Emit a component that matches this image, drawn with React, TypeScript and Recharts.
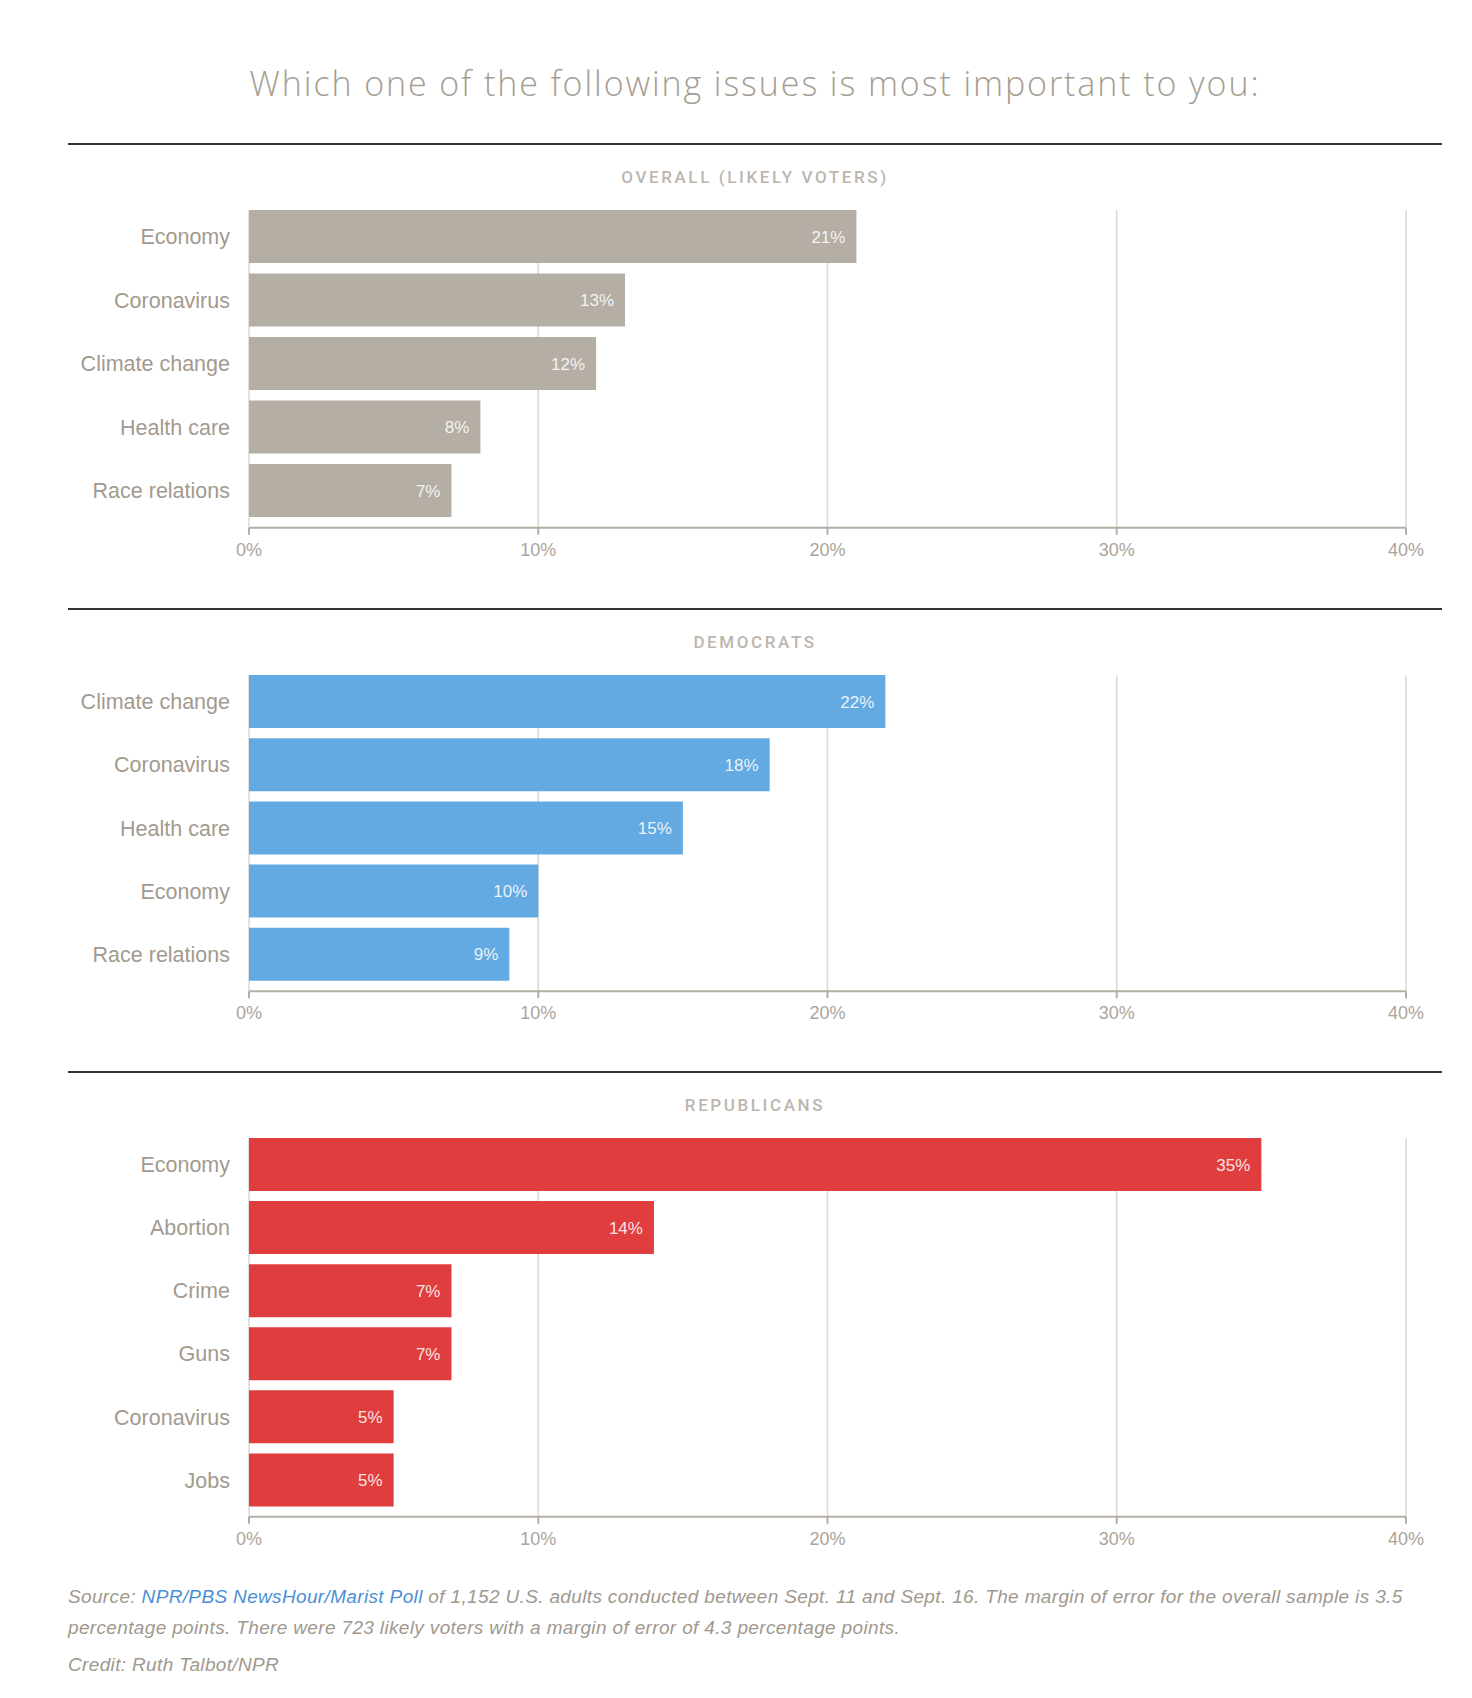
import React from 'react';
import { BarChart, Bar, XAxis, YAxis, CartesianGrid, LabelList } from 'recharts';

const overallIssues = ['Economy', 'Coronavirus', 'Climate change', 'Health care', 'Race relations'];
const overallValues = [21, 13, 12, 8, 7];

const demIssues = ['Climate change', 'Coronavirus', 'Health care', 'Economy', 'Race relations'];
const demValues = [22, 18, 15, 10, 9];

const repIssues = ['Economy', 'Abortion', 'Crime', 'Guns', 'Coronavirus', 'Jobs'];
const repValues = [35, 14, 7, 7, 5, 5];

const xTicks = [0, 10, 20, 30, 40];

const LABEL_GREY = '#a39a8f';
const AXIS_GREY = '#b5aea5';
const EDGE_GAP = 5.25; // half the gap between bars

interface PanelProps {
	title: string;
	issues: string[];
	values: number[];
	color: string;
	top: number; // y of the black rule above the panel
	plotHeight: number;
}

function Panel({ title, issues, values, color, top, plotHeight }: PanelProps) {
	const data = issues.map((issue, i) => ({ issue, value: values[i] }));
	const axisH = 40;
	return (
		<>
			<div
				style={{
					position: 'absolute',
					left: 68,
					top: top - 1,
					width: 1374,
					height: 2,
					background: '#333',
				}}
			/>
			<div
				style={{
					position: 'absolute',
					left: 68,
					width: 1374,
					top: top + 23,
					textAlign: 'center',
					fontFamily: 'Roboto',
					fontWeight: 500,
					fontSize: 17,
					letterSpacing: 2.6,
					color: '#bdb6ae',
				}}
			>
				{title}
			</div>
			<div style={{ position: 'absolute', left: 68, top: top + 60.75 }}>
				<BarChart
					width={1374}
					height={plotHeight + axisH}
					data={data}
					layout="vertical"
					margin={{ top: 0, right: 36, bottom: 0, left: 0 }}
				>
					<CartesianGrid
						horizontal={false}
						stroke="#dbd8d4"
						strokeWidth={1.5}
						x={181}
						y={EDGE_GAP}
						width={1157}
						height={plotHeight - EDGE_GAP}
					/>
					<XAxis
						type="number"
						domain={[0, 40]}
						ticks={xTicks}
						tickFormatter={(v) => `${v}%`}
						height={axisH}
						axisLine={{ stroke: AXIS_GREY, strokeWidth: 2 }}
						tickLine={{ stroke: AXIS_GREY, strokeWidth: 2 }}
						tickSize={7}
						tickMargin={8}
						tick={{ fill: '#aca499', fontSize: 18, fontFamily: 'Liberation Sans' }}
					/>
					<YAxis
						type="category"
						dataKey="issue"
						width={181}
						axisLine={false}
						tickLine={false}
						tickSize={0}
						tickMargin={19}
						padding={{ top: 0, bottom: EDGE_GAP }}
						tick={{ fill: LABEL_GREY, fontSize: 21.5, fontFamily: 'Liberation Sans' }}
					/>
					<Bar dataKey="value" fill={color} barSize={53} isAnimationActive={false}>
						<LabelList
							dataKey="value"
							position="insideRight"
							offset={11}
							formatter={(v: any) => `${v}%`}
							fill="rgba(255,255,255,0.88)"
							fontSize={17}
							fontFamily="Liberation Sans"
						/>
					</Bar>
				</BarChart>
			</div>
		</>
	);
}

export default function App() {
	return (
		<div
			style={{
				position: 'absolute',
				left: 0,
				top: 0,
				width: 1472,
				height: 1698,
				background: '#fff',
				overflow: 'hidden',
			}}
		>
			<div
				style={{
					position: 'absolute',
					left: 68,
					width: 1374,
					top: 60,
					textAlign: 'center',
					fontFamily: 'Open Sans',
					fontWeight: 300,
					fontSize: 34,
					letterSpacing: 1.9,
					color: '#a69e93',
				}}
			>
				Which one of the following issues is most important to you:
			</div>

			<Panel title="OVERALL (LIKELY VOTERS)" issues={overallIssues} values={overallValues} color="#b5aea4" top={144} plotHeight={322.75} />
			<Panel title="DEMOCRATS" issues={demIssues} values={demValues} color="#64aae2" top={608.75} plotHeight={321.25} />
			<Panel title="REPUBLICANS" issues={repIssues} values={repValues} color="#e03e3e" top={1072} plotHeight={383.75} />

			<div
				style={{
					position: 'absolute',
					left: 68,
					top: 1581,
					fontFamily: 'Liberation Sans',
					fontStyle: 'italic',
					fontSize: 19,
					letterSpacing: 0.35,
					lineHeight: '31px',
					color: '#a0988e',
					whiteSpace: 'nowrap',
				}}
			>
				Source: <span style={{ color: '#4a8fd6' }}>NPR/PBS NewsHour/Marist Poll</span> of 1,152 U.S. adults conducted between Sept. 11 and Sept. 16. The margin of error for the overall sample is 3.5
				<br />
				percentage points. There were 723 likely voters with a margin of error of 4.3 percentage points.
				<div style={{ marginTop: 6 }}>Credit: Ruth Talbot/NPR</div>
			</div>
		</div>
	);
}
